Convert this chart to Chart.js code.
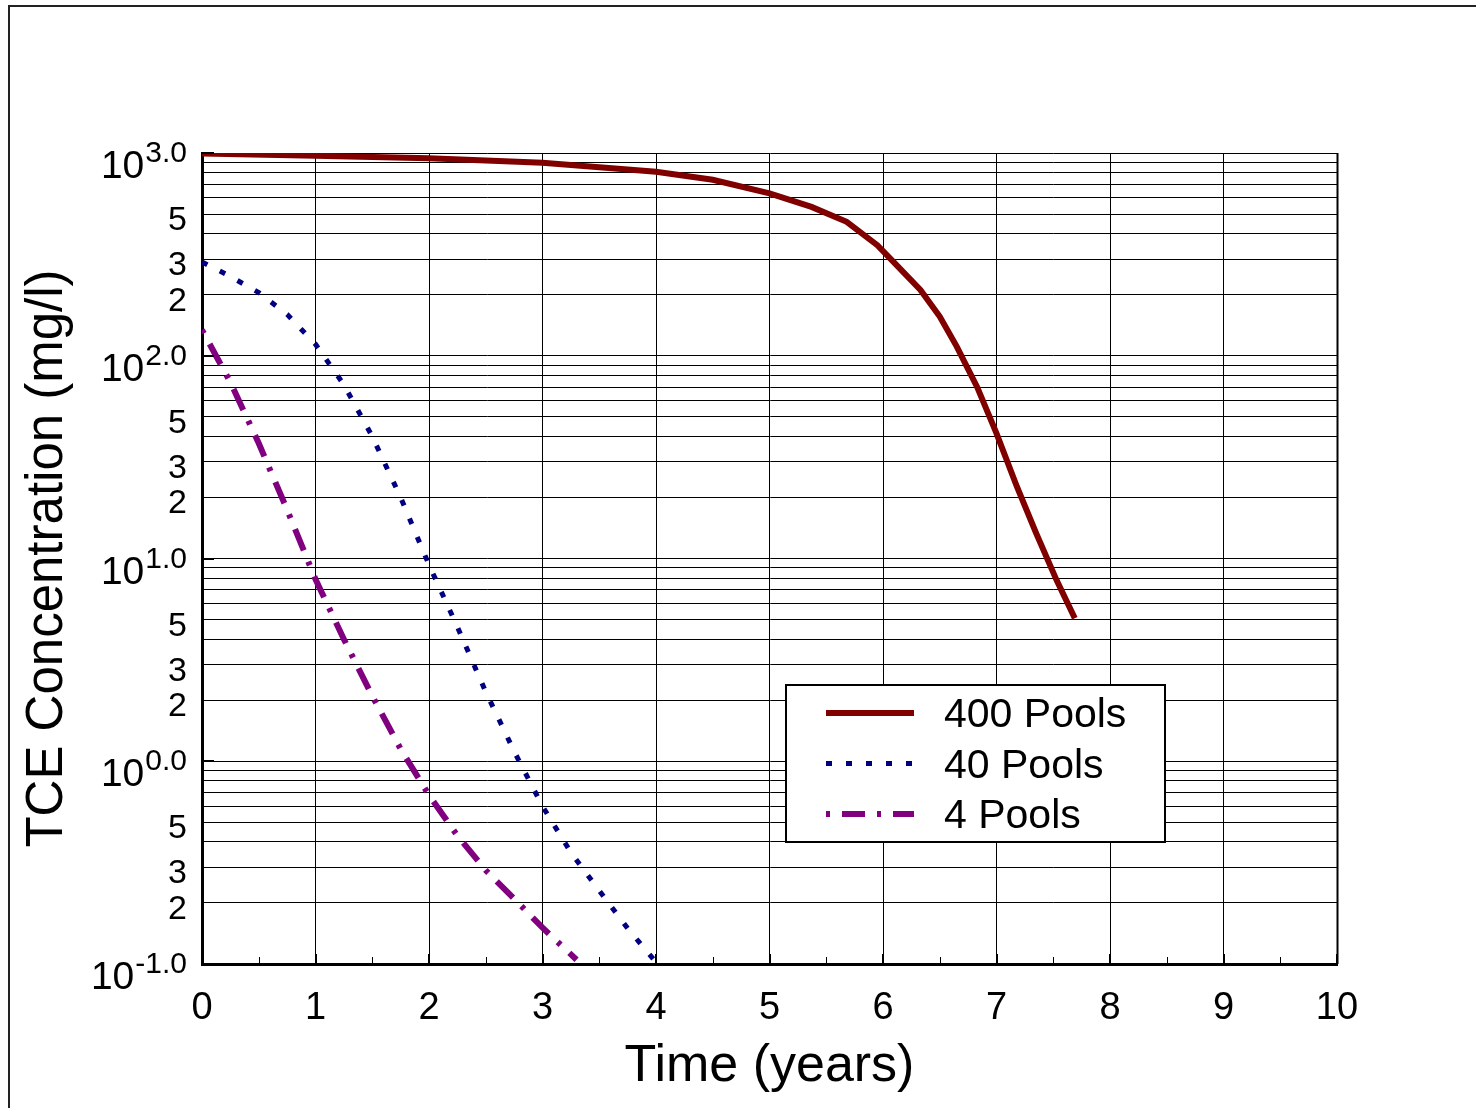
<!DOCTYPE html>
<html>
<head>
<meta charset="utf-8">
<title>TCE Concentration vs Time</title>
<script src="https://cdn.jsdelivr.net/npm/chart.js@4.4.1/dist/chart.umd.min.js"></script>
<style>
  html, body { margin: 0; padding: 0; background: #fff; }
  canvas { display: block; }
</style>
</head>
<body>
<canvas id="chart" width="1476" height="1108"></canvas>
<script>
// Time (years) and TCE concentration (mg/l) for each number of DNAPL pools
const time400 = [0, 1, 2, 3, 4, 4.5, 5, 5.37, 5.68, 5.95, 6.09, 6.33, 6.5, 6.65, 6.83, 7.0, 7.18, 7.35, 7.53, 7.69];
const conc400 = [995, 970, 942, 896, 808, 738, 632, 542, 458, 351, 291, 211, 156, 111, 70, 41.4, 22.6, 13.3, 7.8, 5.07];

const time40 = [0, 0.25, 0.5, 0.75, 1, 1.25, 1.5, 1.75, 2, 2.25, 2.5, 2.75, 3, 3.25, 3.5, 3.75, 4];
const conc40 = [290, 246, 205, 160, 114, 72, 40, 20, 9.3, 4.6, 2.2, 1.12, 0.60, 0.355, 0.23, 0.15, 0.102];

const time4 = [0, 0.25, 0.5, 0.75, 1, 1.25, 1.5, 1.75, 2, 2.25, 2.5, 2.75, 3, 3.3];
const conc4 = [134, 74, 37, 17.4, 7.9, 4.0, 2.1, 1.15, 0.68, 0.43, 0.29, 0.21, 0.151, 0.105];

const seriesLabels = ['400 Pools', '40 Pools', '4 Pools'];

// Axis ticks
const xTicks = [0, 1, 2, 3, 4, 5, 6, 7, 8, 9, 10];
const yDecadeExponents = [-1, 0, 1, 2, 3];
const yMinorLabelMantissas = [2, 3, 5];

const FONT = '"Liberation Sans", Arial, Helvetica, sans-serif';

function toPoints(xs, ys) {
  return xs.map((x, i) => ({ x: x, y: ys[i] }));
}

// Grid values for the log axis: 1..9 x 10^k on each decade
function logGridValues() {
  const vals = [];
  for (let k = yDecadeExponents[0]; k < yDecadeExponents[yDecadeExponents.length - 1]; k++) {
    for (let m = 1; m <= 9; m++) vals.push(m * Math.pow(10, k));
  }
  vals.push(Math.pow(10, yDecadeExponents[yDecadeExponents.length - 1]));
  return vals;
}

// Frame, right border, inner tick marks and the 10^n style labels
const decorations = {
  id: 'decorations',
  beforeDraw(chart) {
    const ctx = chart.ctx;
    ctx.save();
    ctx.fillStyle = '#fff';
    ctx.fillRect(0, 0, chart.width, chart.height);
    ctx.strokeStyle = '#222';
    ctx.lineWidth = 2;
    ctx.beginPath();
    ctx.moveTo(9, chart.height + 2);
    ctx.lineTo(9, 6);
    ctx.lineTo(chart.width + 2, 6);
    ctx.stroke();
    ctx.restore();
  },
  afterDraw(chart) {
    const ctx = chart.ctx;
    const xs = chart.scales.x;
    const ys = chart.scales.y;
    const area = chart.chartArea;
    ctx.save();

    // right border of the plot
    ctx.strokeStyle = '#000';
    ctx.lineWidth = 2;
    ctx.beginPath();
    ctx.moveTo(Math.round(area.right) + 0.5, area.top);
    ctx.lineTo(Math.round(area.right) + 0.5, area.bottom);
    ctx.stroke();

    // inner tick marks
    ctx.lineWidth = 2;
    xTicks.forEach((t) => {
      const px = Math.round(xs.getPixelForValue(t));
      ctx.beginPath();
      ctx.moveTo(px, area.bottom);
      ctx.lineTo(px, area.bottom - 10);
      ctx.stroke();
      if (t < xTicks[xTicks.length - 1]) {
        const hx = Math.round(xs.getPixelForValue(t + 0.5)) + 0.5;
        ctx.lineWidth = 1;
        ctx.beginPath();
        ctx.moveTo(hx, area.bottom);
        ctx.lineTo(hx, area.bottom - 7);
        ctx.stroke();
        ctx.lineWidth = 2;
      }
    });
    yDecadeExponents.forEach((e) => {
      const py = Math.round(ys.getPixelForValue(Math.pow(10, e)));
      ctx.beginPath();
      ctx.moveTo(area.left, py);
      ctx.lineTo(area.left + 12, py);
      ctx.stroke();
    });

    // y labels
    ctx.fillStyle = '#000';
    ctx.textAlign = 'right';
    ctx.textBaseline = 'alphabetic';
    const labelRight = area.left - 15;
    yDecadeExponents.forEach((e) => {
      const py = ys.getPixelForValue(Math.pow(10, e));
      const sup = e.toFixed(1);
      ctx.font = '30px ' + FONT;
      const sw = ctx.measureText(sup).width;
      ctx.fillText(sup, labelRight, py + 9);
      ctx.font = '39px ' + FONT;
      ctx.fillText('10', labelRight - sw - 1, py + 25);
    });
    ctx.font = '34px ' + FONT;
    yDecadeExponents.slice(0, -1).forEach((e) => {
      yMinorLabelMantissas.forEach((m) => {
        const py = ys.getPixelForValue(m * Math.pow(10, e));
        ctx.fillText(String(m), labelRight, py + 16);
      });
    });

    // legend
    const box = { x: 786, y: 685, w: 379, h: 157 };
    ctx.fillStyle = '#fff';
    ctx.fillRect(box.x, box.y, box.w, box.h);
    ctx.strokeStyle = '#000';
    ctx.lineWidth = 2;
    ctx.strokeRect(box.x, box.y, box.w, box.h);
    ctx.textAlign = 'left';
    ctx.font = '41px ' + FONT;
    chart.data.datasets.forEach((ds, i) => {
      const ry = 713 + i * 50.5;
      ctx.save();
      ctx.strokeStyle = ds.borderColor;
      ctx.lineWidth = ds.borderWidth;
      ctx.lineCap = 'butt';
      ctx.setLineDash(ds.borderDash || []);
      ctx.lineDashOffset = ds.borderDashOffset || 0;
      ctx.beginPath();
      ctx.moveTo(826, ry);
      ctx.lineTo(914, ry);
      ctx.stroke();
      ctx.restore();
      ctx.fillStyle = '#000';
      ctx.fillText(ds.label, 944, ry + 14);
    });
    ctx.restore();
  }
};

new Chart(document.getElementById('chart'), {
  type: 'scatter',
  data: {
    datasets: [
      {
        label: seriesLabels[0],
        data: toPoints(time400, conc400),
        showLine: true,
        borderColor: '#800000',
        borderWidth: 6,
        pointRadius: 0,
        tension: 0
      },
      {
        label: seriesLabels[1],
        data: toPoints(time40, conc40),
        showLine: true,
        borderColor: '#000080',
        borderWidth: 5,
        borderDash: [6, 14],
        pointRadius: 0,
        tension: 0
      },
      {
        label: seriesLabels[2],
        data: toPoints(time4, conc4),
        showLine: true,
        borderColor: '#800080',
        borderWidth: 6,
        borderDash: [23, 12, 4, 12],
        borderDashOffset: 35,
        pointRadius: 0,
        tension: 0
      }
    ]
  },
  options: {
    responsive: false,
    animation: false,
    devicePixelRatio: 1,
    layout: { padding: { left: 0, right: 139, top: 153, bottom: 0 } },
    plugins: {
      legend: { display: false },
      tooltip: { enabled: false }
    },
    scales: {
      x: {
        type: 'linear',
        min: 0,
        max: 10,
        afterBuildTicks: (scale) => { scale.ticks = xTicks.map((v) => ({ value: v })); },
        afterFit: (scale) => { scale.height = 144; },
        ticks: {
          color: '#000',
          padding: 22,
          font: { family: FONT, size: 38 },
          callback: (v) => String(v)
        },
        grid: { color: '#000', lineWidth: 1, drawTicks: false },
        border: { display: true, color: '#000', width: 3 },
        title: {
          display: true,
          text: 'Time (years)',
          color: '#000',
          font: { family: FONT, size: 52 },
          padding: { top: 0, bottom: 10 }
        }
      },
      y: {
        type: 'logarithmic',
        min: 0.1,
        max: 1000,
        afterBuildTicks: (scale) => { scale.ticks = logGridValues().map((v) => ({ value: v })); },
        afterFit: (scale) => { scale.width = 202; },
        ticks: { display: false },
        grid: { color: '#000', lineWidth: 1, drawTicks: false },
        border: { display: true, color: '#000', width: 3 },
        title: {
          display: true,
          text: 'TCE Concentration (mg/l)',
          color: '#000',
          font: { family: FONT, size: 51 },
          padding: { top: 17, bottom: 0 }
        }
      }
    }
  },
  plugins: [decorations]
});
</script>
</body>
</html>
